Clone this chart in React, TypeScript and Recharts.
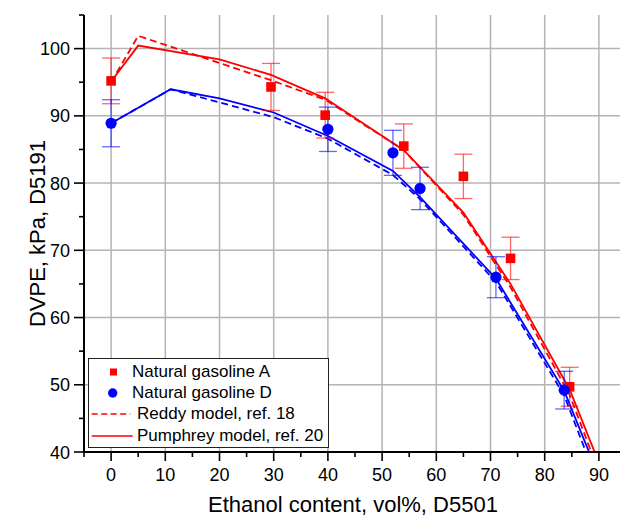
import React from 'react';
import { CartesianGrid, ComposedChart, ErrorBar, Label, Legend, Line, Scatter, XAxis, YAxis } from 'recharts';

// measured samples (DVPE vs ethanol content), error bars are +/- values
const ethanolA = [0, 29.5, 39.5, 54, 65, 73.7, 84.6];
const dvpeA = [95.2, 94.3, 90.1, 85.5, 81.0, 68.8, 49.7];
const errA = [3.4, 3.5, 3.4, 3.3, 3.3, 3.15, 2.9];

const ethanolD = [0, 40, 52, 57, 71, 83.6];
const dvpeD = [88.9, 88.0, 84.5, 79.2, 66.0, 49.2];
const errD = [3.5, 3.3, 3.35, 3.15, 3.05, 2.8];

// model curves
const modelXA = [0, 5, 20, 29.5, 39.5, 54, 65, 73.7, 84.6, 90];
const pumphreyA = [95.1, 100.45, 98.4, 96.1, 92.6, 84.9, 75.6, 65.0, 49.3, 38.4];
const reddyA = [95.0, 101.9, 97.85, 95.3, 92.4, 84.9, 75.3, 64.5, 48.5, 37.0];

const modelXD = [0, 11, 20, 30, 40, 52, 57, 71, 83.6, 90];
const pumphreyD = [88.9, 93.95, 92.6, 90.5, 87.0, 81.8, 77.9, 65.8, 49.1, 36.4];
const reddyD = [88.9, 93.95, 92.0, 89.8, 86.6, 81.2, 77.6, 65.3, 48.4, 35.0];

const xTicks = [-5, 0, 5, 10, 15, 20, 25, 30, 35, 40, 45, 50, 55, 60, 65, 70, 75, 80, 85, 90, 95];
const yTicks = [40, 45, 50, 55, 60, 65, 70, 75, 80, 85, 90, 95, 100, 105];
const xGrid = [0, 10, 20, 30, 40, 50, 60, 70, 80, 90];
const yGrid = [50, 60, 70, 80, 90, 100];

const legendNames = ['Natural gasoline A', 'Natural gasoline D', 'Reddy model, ref. 18', 'Pumphrey model, ref. 20'];

const RED = '#ff0000';
const BLUE = '#0000ff';
const FONT = '"Liberation Sans", Arial, Helvetica, sans-serif';

const toPoints = (xs: number[], ys: number[], errs?: number[]) =>
  xs.map((x, i) => (errs ? { x, y: ys[i], err: errs[i] } : { x, y: ys[i] }));

const isMajor = (v: number) => v % 10 === 0;

const BottomTick = ({ x, y, payload }: any) => {
  const major = isMajor(payload.value);
  return (
    <g>
      <line x1={x} x2={x} y1={y} y2={y + (major ? 9 : 5)} stroke="#000" strokeWidth={1.6} />
      {major && (
        <text x={x} y={y + 29} textAnchor="middle" fontSize={18} fontFamily={FONT} fill="#000">
          {payload.value}
        </text>
      )}
    </g>
  );
};

const TopTick = ({ x, y, payload }: any) => (
  <line x1={x} x2={x} y1={y} y2={y + (isMajor(payload.value) ? 9 : 5)} stroke="#000" strokeWidth={1.6} />
);

const LeftTick = ({ x, y, payload }: any) => {
  const major = isMajor(payload.value);
  return (
    <g>
      <line x1={x} x2={x - (major ? 10 : 5)} y1={y} y2={y} stroke="#000" strokeWidth={1.6} />
      {major && (
        <text x={x - 14} y={y + 6.5} textAnchor="end" fontSize={18} fontFamily={FONT} fill="#000">
          {payload.value}
        </text>
      )}
    </g>
  );
};

const RightTick = ({ x, y, payload }: any) => (
  <line x1={x} x2={x - (isMajor(payload.value) ? 9 : 5)} y1={y} y2={y} stroke="#000" strokeWidth={1.6} />
);

const SquareDot = ({ cx, cy }: any) => <rect x={cx - 4.8} y={cy - 4.8} width={9.6} height={9.6} fill={RED} />;
const CircleDot = ({ cx, cy }: any) => <circle cx={cx} cy={cy} r={5.6} fill={BLUE} />;

const renderLegend = () => (
  <div
    style={{
      width: 241,
      height: 90,
      boxSizing: 'border-box',
      border: '1px solid #222',
      background: '#fff',
      paddingTop: 2,
      fontFamily: FONT,
      fontSize: 17,
      color: '#000',
    }}
  >
    {legendNames.map((name, i) => (
      <div key={name} style={{ height: 21.4, display: 'flex', alignItems: 'center', whiteSpace: 'nowrap' }}>
        <svg width={i < 2 ? 43 : 48} height={20} style={{ flex: 'none' }}>
          {i === 0 && <rect x={21} y={6.5} width={7} height={7} fill={RED} />}
          {i === 1 && <circle cx={23.7} cy={10} r={4.7} fill={BLUE} />}
          {i === 2 && <line x1={2.7} x2={41.3} y1={10} y2={10} stroke={RED} strokeWidth={1.5} strokeDasharray="6 3.5" />}
          {i === 3 && <line x1={2.7} x2={43.7} y1={10} y2={10} stroke={RED} strokeWidth={1.5} />}
        </svg>
        <span>{name}</span>
      </div>
    ))}
  </div>
);

export default function App() {
  return (
    <div style={{ position: 'fixed', left: 0, top: 0, width: 620, height: 518, overflow: 'hidden', background: '#fff' }}>
      <ComposedChart width={626} height={518} margin={{ top: 15, right: 0, bottom: 0, left: 0 }}>
        <CartesianGrid
          verticalValues={xGrid}
          horizontalValues={yGrid}
          stroke="#b4b4b4"
          strokeWidth={1.5}
        />
        <XAxis
          type="number"
          dataKey="x"
          domain={[-5, 95]}
          ticks={xTicks}
          interval={0}
          allowDataOverflow
          height={66}
          tickSize={0}
          tickMargin={0}
          tickLine={false}
          tick={<BottomTick />}
          axisLine={{ stroke: '#000', strokeWidth: 2 }}
        >
          <Label
            value="Ethanol content, vol%, D5501"
            position="insideBottom"
            offset={6}
            dx={-2}
            style={{ fontSize: 22, fontFamily: FONT, fill: '#000' }}
          />
        </XAxis>
        <XAxis
          xAxisId="top"
          orientation="top"
          type="number"
          domain={[-5, 95]}
          ticks={xTicks}
          interval={0}
          allowDataOverflow
          height={0}
          tickSize={0}
          tickMargin={0}
          tickLine={false}
          tick={<TopTick />}
          axisLine={{ stroke: '#000', strokeWidth: 2 }}
        />
        <YAxis
          type="number"
          dataKey="y"
          domain={[40, 105]}
          ticks={yTicks}
          interval={0}
          allowDataOverflow
          width={84}
          tickSize={0}
          tickMargin={0}
          tickLine={false}
          tick={<LeftTick />}
          axisLine={{ stroke: '#000', strokeWidth: 2 }}
        >
          <Label
            value="DVPE, kPa, D5191"
            angle={-90}
            position="insideLeft"
            offset={37}
            style={{ fontSize: 22, fontFamily: FONT, fill: '#000', textAnchor: 'middle' }}
          />
        </YAxis>
        <YAxis
          yAxisId="right"
          orientation="right"
          type="number"
          domain={[40, 105]}
          ticks={yTicks}
          interval={0}
          allowDataOverflow
          width={0}
          tickSize={0}
          tickMargin={0}
          tickLine={false}
          tick={<RightTick />}
          axisLine={{ stroke: '#000', strokeWidth: 2 }}
        />

        <Line
          data={toPoints(modelXD, reddyD)}
          dataKey="y"
          stroke={BLUE}
          strokeWidth={1.8}
          strokeDasharray="7 4"
          dot={false}
          activeDot={false}
          isAnimationActive={false}
        />
        <Line
          data={toPoints(modelXD, pumphreyD)}
          dataKey="y"
          stroke={BLUE}
          strokeWidth={1.8}
          dot={false}
          activeDot={false}
          isAnimationActive={false}
        />
        <Line
          data={toPoints(modelXA, reddyA)}
          dataKey="y"
          stroke={RED}
          strokeWidth={1.8}
          strokeDasharray="7 4"
          dot={false}
          activeDot={false}
          isAnimationActive={false}
        />
        <Line
          data={toPoints(modelXA, pumphreyA)}
          dataKey="y"
          stroke={RED}
          strokeWidth={1.8}
          dot={false}
          activeDot={false}
          isAnimationActive={false}
        />

        <Scatter data={toPoints(ethanolA, dvpeA, errA)} dataKey="y" shape={<SquareDot />} isAnimationActive={false}>
          <ErrorBar dataKey="err" direction="y" width={9} stroke="rgba(255,0,0,0.6)" strokeWidth={1.3} isAnimationActive={false} />
        </Scatter>
        <Scatter data={toPoints(ethanolD, dvpeD, errD)} dataKey="y" shape={<CircleDot />} isAnimationActive={false}>
          <ErrorBar dataKey="err" direction="y" width={9} stroke="rgba(0,0,255,0.6)" strokeWidth={1.3} isAnimationActive={false} />
        </Scatter>

        <Legend
          layout="horizontal"
          align="center"
          verticalAlign="middle"
          content={renderLegend}
          wrapperStyle={{ left: 88, top: 358, width: 241, height: 90 }}
        />
      </ComposedChart>
    </div>
  );
}
